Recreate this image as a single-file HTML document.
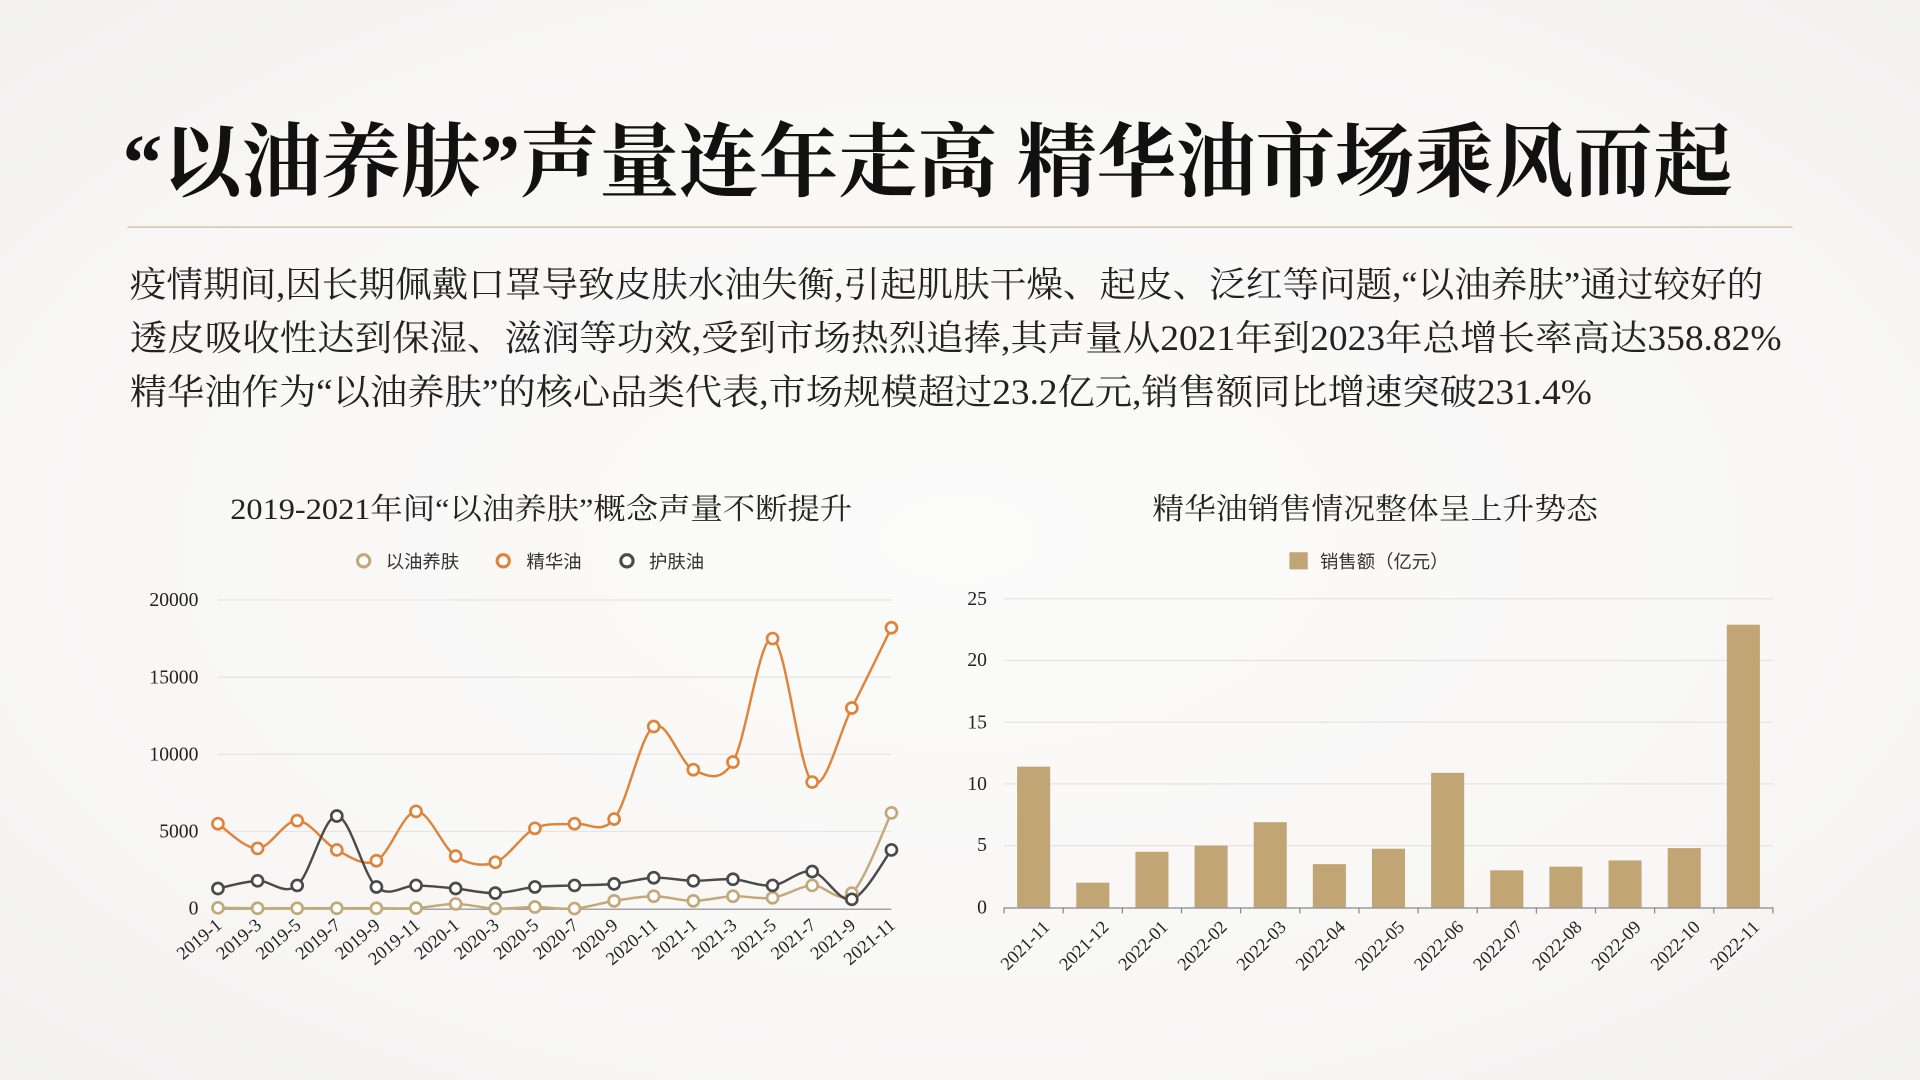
<!DOCTYPE html>
<html><head><meta charset="utf-8"><style>
html,body{margin:0;padding:0;width:1920px;height:1080px;overflow:hidden;background:#f9f8f7}
svg{display:block}
.serif{font-family:"Liberation Serif","Noto Serif CJK SC",serif}
.sans{font-family:"Liberation Sans","Noto Sans CJK SC",sans-serif}
</style></head><body>
<svg width="1920" height="1080" viewBox="0 0 1568 882" xmlns="http://www.w3.org/2000/svg">
<defs>
<radialGradient id="bg" cx="0.5" cy="0.5" r="0.75">
<stop offset="0" stop-color="#fbfbfa"/><stop offset="0.6" stop-color="#f8f7f6"/><stop offset="1" stop-color="#f1f0ef"/>
</radialGradient>
</defs>
<rect width="1568" height="882" fill="url(#bg)"/>
<text class="serif" x="100" y="155" font-size="66" font-weight="bold" fill="#111" textLength="1315" lengthAdjust="spacingAndGlyphs">“以油养肤”声量连年走高 精华油市场乘风而起</text>
<line x1="104" y1="185.5" x2="1464" y2="185.5" stroke="#cdb9a0" stroke-width="1"/>
<g class="serif" font-size="29" fill="#222">
<text x="106" y="242" textLength="1334" lengthAdjust="spacingAndGlyphs">疫情期间,因长期佩戴口罩导致皮肤水油失衡,引起肌肤干燥、起皮、泛红等问题,“以油养肤”通过较好的</text>
<text x="106" y="286" textLength="1349" lengthAdjust="spacingAndGlyphs">透皮吸收性达到保湿、滋润等功效,受到市场热烈追捧,其声量从2021年到2023年总增长率高达358.82%</text>
<text x="106" y="330" textLength="1194" lengthAdjust="spacingAndGlyphs">精华油作为“以油养肤”的核心品类代表,市场规模超过23.2亿元,销售额同比增速突破231.4%</text>
</g>
<!-- left chart -->
<text class="serif" x="442" y="424" font-size="24" fill="#222" text-anchor="middle" textLength="508" lengthAdjust="spacingAndGlyphs">2019-2021年间“以油养肤”概念声量不断提升</text>
<g class="sans" font-size="15" fill="#333">
<circle cx="297" cy="458" r="5" fill="#fff" stroke="#c3a878" stroke-width="2.5"/><text x="315" y="464">以油养肤</text>
<circle cx="411" cy="458" r="5" fill="#fff" stroke="#e0833a" stroke-width="2.5"/><text x="430" y="464">精华油</text>
<circle cx="512" cy="458" r="5" fill="#fff" stroke="#4a4a4a" stroke-width="2.5"/><text x="530" y="464">护肤油</text>
</g>
<g stroke="#e6e4e2" stroke-width="1">
<line x1="178" y1="490" x2="728" y2="490"/><line x1="178" y1="553" x2="728" y2="553"/><line x1="178" y1="616" x2="728" y2="616"/><line x1="178" y1="679" x2="728" y2="679"/>
</g>
<line x1="178" y1="742.5" x2="728" y2="742.5" stroke="#888" stroke-width="1"/>
<g class="serif" font-size="16" fill="#222" text-anchor="end">
<text x="162" y="495">20000</text><text x="162" y="558">15000</text><text x="162" y="621">10000</text><text x="162" y="684">5000</text><text x="162" y="747">0</text>
</g>
<g class="serif" font-size="15" fill="#222" text-anchor="end">
<text transform="translate(182,757) rotate(-40)">2019-1</text>
<text transform="translate(214.4,757) rotate(-40)">2019-3</text>
<text transform="translate(246.7,757) rotate(-40)">2019-5</text>
<text transform="translate(279.1,757) rotate(-40)">2019-7</text>
<text transform="translate(311.4,757) rotate(-40)">2019-9</text>
<text transform="translate(343.8,757) rotate(-40)">2019-11</text>
<text transform="translate(376.1,757) rotate(-40)">2020-1</text>
<text transform="translate(408.5,757) rotate(-40)">2020-3</text>
<text transform="translate(440.8,757) rotate(-40)">2020-5</text>
<text transform="translate(473.2,757) rotate(-40)">2020-7</text>
<text transform="translate(505.5,757) rotate(-40)">2020-9</text>
<text transform="translate(537.9,757) rotate(-40)">2020-11</text>
<text transform="translate(570.2,757) rotate(-40)">2021-1</text>
<text transform="translate(602.6,757) rotate(-40)">2021-3</text>
<text transform="translate(634.9,757) rotate(-40)">2021-5</text>
<text transform="translate(667.3,757) rotate(-40)">2021-7</text>
<text transform="translate(699.6,757) rotate(-40)">2021-9</text>
<text transform="translate(732,757) rotate(-40)">2021-11</text>
</g>
<g id="lines"></g>
<!-- right chart -->
<text class="serif" x="1123" y="424" font-size="24" fill="#222" text-anchor="middle" textLength="364" lengthAdjust="spacingAndGlyphs">精华油销售情况整体呈上升势态</text>
<rect x="1053" y="451" width="15" height="14" fill="#c1a574"/>
<text class="sans" x="1078" y="464" font-size="15" fill="#333">销售额（亿元）</text>
<g stroke="#e6e4e2" stroke-width="1">
<line x1="820" y1="489" x2="1448" y2="489"/><line x1="820" y1="539.4" x2="1448" y2="539.4"/><line x1="820" y1="589.8" x2="1448" y2="589.8"/><line x1="820" y1="640.2" x2="1448" y2="640.2"/><line x1="820" y1="690.6" x2="1448" y2="690.6"/>
</g>
<g class="serif" font-size="16" fill="#222" text-anchor="end">
<text x="806" y="494">25</text><text x="806" y="544">20</text><text x="806" y="595">15</text><text x="806" y="645">10</text><text x="806" y="695">5</text><text x="806" y="746">0</text>
</g>
<g id="bars" fill="#c1a574"></g>
<line x1="820" y1="741.5" x2="1448" y2="741.5" stroke="#888" stroke-width="1"/>
<g id="ticks" stroke="#888"></g>
<g class="serif" font-size="15" fill="#222" text-anchor="end">
<text transform="translate(858,758) rotate(-45)">2021-11</text>
<text transform="translate(906.3,758) rotate(-45)">2021-12</text>
<text transform="translate(954.6,758) rotate(-45)">2022-01</text>
<text transform="translate(1002.9,758) rotate(-45)">2022-02</text>
<text transform="translate(1051.2,758) rotate(-45)">2022-03</text>
<text transform="translate(1099.5,758) rotate(-45)">2022-04</text>
<text transform="translate(1147.8,758) rotate(-45)">2022-05</text>
<text transform="translate(1196.1,758) rotate(-45)">2022-06</text>
<text transform="translate(1244.4,758) rotate(-45)">2022-07</text>
<text transform="translate(1292.7,758) rotate(-45)">2022-08</text>
<text transform="translate(1341,758) rotate(-45)">2022-09</text>
<text transform="translate(1389.3,758) rotate(-45)">2022-10</text>
<text transform="translate(1437.6,758) rotate(-45)">2022-11</text>
</g>
</svg>
<script>
(function(){
var NS="http://www.w3.org/2000/svg";
function el(t,a,p){var e=document.createElementNS(NS,t);for(var k in a)e.setAttribute(k,a[k]);p.appendChild(e);return e;}
var g=document.getElementById("lines");
var series=[
 {c:"#c3a878",d:[50,20,20,20,20,30,300,0,100,0,500,800,500,800,700,1500,1000,6200]},
 {c:"#e0833a",d:[5500,3900,5700,3800,3100,6300,3400,3000,5200,5500,5800,11800,9000,9500,17500,8200,13000,18200]},
 {c:"#4a4a4a",d:[1300,1800,1500,6000,1400,1500,1300,1000,1400,1500,1600,2000,1800,1900,1500,2400,600,3800]}
];
series.forEach(function(s){
 var pts=s.d.map(function(v,i){return [178+i*32.353,742-v*252/20000];});
 var d="M"+pts[0][0]+","+pts[0][1];
 var t=0.5;
 for(var i=0;i<pts.length-1;i++){
  var p0=pts[Math.max(i-1,0)],p1=pts[i],p2=pts[i+1],p3=pts[Math.min(i+2,pts.length-1)];
  var c1=[p1[0]+(p2[0]-p0[0])*t/3,p1[1]+(p2[1]-p0[1])*t/3];
  var c2=[p2[0]-(p3[0]-p1[0])*t/3,p2[1]-(p3[1]-p1[1])*t/3];
  d+=" C"+c1+" "+c2+" "+p2;
 }
 el("path",{d:d,fill:"none",stroke:s.c,"stroke-width":2},g);
 s.pts=pts;
});
series.forEach(function(s){s.pts.forEach(function(p){el("circle",{cx:p[0],cy:p[1],r:4.5,fill:"#fff",stroke:s.c,"stroke-width":2.2},g);});});
var b=document.getElementById("bars"),tk=document.getElementById("ticks");
var vals=[11.4,2,4.5,5,6.9,3.5,4.75,10.9,3,3.3,3.8,4.8,22.9];
vals.forEach(function(v,i){var cx=820+24.15+i*48.3,h=v*252/25;el("rect",{x:cx-13.5,y:741-h,width:27,height:h},b);});
for(var i=0;i<=13;i++){var x=820+i*48.3;el("line",{x1:x,y1:741,x2:x,y2:746},tk);}
})();
</script>
</body></html>
